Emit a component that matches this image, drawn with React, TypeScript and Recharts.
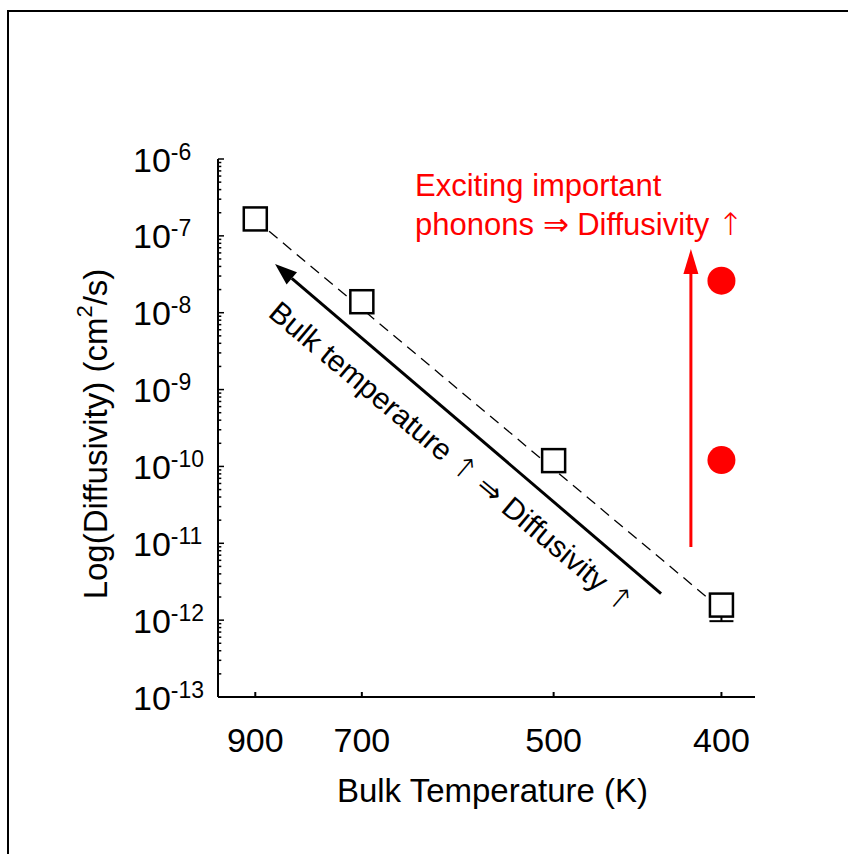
import React from "react";
import {
  ComposedChart,
  Scatter,
  XAxis,
  YAxis,
  ReferenceLine,
  ReferenceDot,
  ErrorBar,
  Label,
} from "recharts";

// bulk diffusivity vs temperature (x axis is 1000/T)
const temperatures = [900, 700, 500, 400];
const bulkDiffusivity = [1.66e-7, 1.39e-8, 1.19e-10, 1.57e-12];
const bulkError = [0, 0, 0, 0.6e-12];

// phonon-excited runs at 400 K
const phononTemps = [400, 400];
const phononDiffusivity = [2.61e-8, 1.21e-10];

// Arrhenius fit (dashed)
const fitTemps = [900, 400];
const fitDiffusivity = [1.62e-7, 1.38e-12];

const decadeExponents = [-13, -12, -11, -10, -9, -8, -7, -6];
const minorMultiples = [1, 2, 3, 4, 5, 6, 7, 8, 9];

const FONT = '"Liberation Sans", Arial, Helvetica, sans-serif';
const ARROW_FONT = '"DejaVu Sans", sans-serif';
const RED = "#ff0000";

const inv = (t: number) => 1000 / t;

const bulkData = temperatures.map((t, i) => ({
  inv: inv(t),
  d: bulkDiffusivity[i],
  err: bulkError[i],
}));
const phononData = phononTemps.map((t, i) => ({ inv: inv(t), d: phononDiffusivity[i] }));
const fitData = fitTemps.map((t, i) => ({ inv: inv(t), d: fitDiffusivity[i] }));

const yTicks: number[] = [];
decadeExponents.forEach((e, i) => {
  if (i === decadeExponents.length - 1) {
    yTicks.push(Math.pow(10, e));
    return;
  }
  minorMultiples.forEach((m) => yTicks.push(m * Math.pow(10, e)));
});

const xTicks = temperatures.map(inv);

const isDecade = (v: number) => {
  const l = Math.log10(v);
  return Math.abs(l - Math.round(l)) < 1e-6;
};

const XTick = (props: any) => {
  const { x, y, payload } = props;
  const t = Math.round(1000 / payload.value);
  return (
    <g>
      <line x1={x} y1={y} x2={x} y2={y - 5} stroke="#000" strokeWidth={2} />
      <text x={x} y={y + 55} textAnchor="middle" fontSize={34} fontFamily={FONT} fill="#000">
        {t}
      </text>
    </g>
  );
};

const YTick = (props: any) => {
  const { x, y, payload } = props;
  const major = isDecade(payload.value);
  const exp = Math.round(Math.log10(payload.value));
  return (
    <g>
      <line x1={x} y1={y} x2={x + (major ? 6 : 3.3)} y2={y} stroke="#000" strokeWidth={1.5} />
      {major && (
        <text x={x - 85} y={y + 12.5} fontSize={34} fontFamily={FONT} fill="#000">
          10
          <tspan dy={-12} fontSize={23}>
            {`-${-exp}`}
          </tspan>
        </text>
      )}
    </g>
  );
};

const Square = (props: any) => {
  const { cx, cy } = props;
  const s = 23;
  return (
    <rect x={cx - s / 2} y={cy - s / 2} width={s} height={s} fill="#fff" stroke="#000" strokeWidth={2.5} />
  );
};

const Dot = (props: any) => {
  const { cx, cy } = props;
  return <circle cx={cx} cy={cy} r={14} fill={RED} />;
};

const arrowShape = (color: string, len: number, half: number) => (props: any) => {
  const { x1, y1, x2, y2 } = props;
  const a = Math.atan2(y2 - y1, x2 - x1);
  const bx = x2 - len * Math.cos(a);
  const by = y2 - len * Math.sin(a);
  const px = -Math.sin(a) * half;
  const py = Math.cos(a) * half;
  return (
    <g>
      <line x1={x1} y1={y1} x2={bx} y2={by} stroke={color} strokeWidth={3} />
      <polygon points={`${x2},${y2} ${bx + px},${by + py} ${bx - px},${by - py}`} fill={color} />
    </g>
  );
};

const Up = () => (
  <tspan fontFamily={ARROW_FONT} fontWeight={300}>
    {"\u2191"}
  </tspan>
);

export default function App() {
  return (
    <div
      style={{
        position: "absolute",
        left: 0,
        top: 0,
        width: 848,
        height: 854,
        overflow: "hidden",
        background: "#fff",
      }}
    >
      <div
        style={{
          position: "absolute",
          left: 7,
          top: 10,
          width: 900,
          height: 900,
          borderTop: "2px solid #000",
          borderLeft: "2px solid #000",
        }}
      />
      <div style={{ position: "absolute", left: 0, top: 0 }}>
        <ComposedChart width={848} height={854} margin={{ top: 159, right: 93, bottom: 0, left: 0 }}>
          <XAxis
            xAxisId="b"
            type="number"
            dataKey="inv"
            domain={[1.0, 2.6]}
            ticks={xTicks}
            interval={0}
            allowDataOverflow
            tick={<XTick />}
            tickLine={false}
            tickSize={0}
            tickMargin={0}
            height={157}
            axisLine={{ stroke: "#000", strokeWidth: 2 }}
          >
            <Label
              content={(p: any) => {
                const vb = p.viewBox;
                return (
                  <text
                    x={vb.x + vb.width / 2 + 6}
                    y={vb.y + 105}
                    textAnchor="middle"
                    fontSize={33}
                    fontFamily={FONT}
                    fill="#000"
                  >
                    Bulk Temperature (K)
                  </text>
                );
              }}
            />
          </XAxis>
          <XAxis
            xAxisId="t"
            orientation="top"
            type="number"
            domain={[1.0, 2.6]}
            height={0}
            tick={false}
            tickLine={false}
            axisLine={{ stroke: "#000", strokeWidth: 2 }}
          />
          <YAxis
            yAxisId="l"
            type="number"
            scale="log"
            dataKey="d"
            domain={[1e-13, 1e-6]}
            ticks={yTicks}
            interval={0}
            allowDataOverflow
            tick={<YTick />}
            tickLine={false}
            tickSize={0}
            tickMargin={0}
            width={218}
            axisLine={{ stroke: "#000", strokeWidth: 2 }}
          >
            <Label
              content={(p: any) => {
                const vb = p.viewBox;
                const cx = 95;
                const cy = vb.y + 275;
                return (
                  <text
                    x={cx}
                    y={cy}
                    transform={`rotate(-90 ${cx} ${cy})`}
                    textAnchor="middle"
                    dominantBaseline="central"
                    fontSize={33}
                    fontFamily={FONT}
                    fill="#000"
                  >
                    Log(Diffusivity) (cm
                    <tspan dy={-11} fontSize={22}>
                      2
                    </tspan>
                    <tspan dy={11}>/s)</tspan>
                  </text>
                );
              }}
            />
          </YAxis>
          <YAxis
            yAxisId="r"
            orientation="right"
            type="number"
            scale="log"
            domain={[1e-13, 1e-6]}
            allowDataOverflow
            width={0}
            tick={false}
            tickLine={false}
            axisLine={{ stroke: "#000", strokeWidth: 2 }}
          />

          <Scatter
            xAxisId="b"
            yAxisId="l"
            data={fitData}
            dataKey="d"
            line={{ stroke: "#000", strokeWidth: 1.3, strokeDasharray: "11 7" }}
            lineType="joint"
            shape={() => <g />}
            isAnimationActive={false}
          />

          <ReferenceLine
            xAxisId="b"
            yAxisId="l"
            segment={[
              { x: 2.32, y: 2.22e-12 },
              { x: 1.17, y: 4.3e-8 },
            ]}
            shape={arrowShape("#000", 22, 8)}
          />
          <ReferenceLine
            xAxisId="b"
            yAxisId="l"
            segment={[
              { x: 2.409, y: 8.95e-12 },
              { x: 2.409, y: 6.75e-8 },
            ]}
            shape={arrowShape(RED, 25, 7.5)}
          />

          <Scatter
            xAxisId="b"
            yAxisId="l"
            data={bulkData}
            dataKey="d"
            shape={<Square />}
            isAnimationActive={false}
          >
            <ErrorBar dataKey="err" direction="y" width={12} stroke="#000" strokeWidth={2} />
          </Scatter>
          <Scatter
            xAxisId="b"
            yAxisId="l"
            data={phononData}
            dataKey="d"
            shape={<Dot />}
            isAnimationActive={false}
          />

          <ReferenceDot
            xAxisId="b"
            yAxisId="l"
            x={1.587}
            y={3.3e-7}
            r={0}
            shape={(p: any) => (
              <text x={p.cx} y={p.cy} fontSize={31} fontFamily={FONT} fill={RED}>
                <tspan x={p.cx}>Exciting important</tspan>
                <tspan x={p.cx} dy={39}>
                  {"phonons \u21D2 Diffusivity "}
                </tspan>
                <Up />
              </text>
            )}
          />
          <ReferenceDot
            xAxisId="b"
            yAxisId="l"
            x={1.697}
            y={1.33e-10}
            r={0}
            shape={(p: any) => (
              <text
                x={p.cx}
                y={p.cy}
                transform={`rotate(40 ${p.cx} ${p.cy})`}
                textAnchor="middle"
                dominantBaseline="central"
                fontSize={30}
                fontFamily={FONT}
                fill="#000"
              >
                {"Bulk temperature "}
                <Up />
                {" \u21D2 Diffusivity "}
                <Up />
              </text>
            )}
          />
        </ComposedChart>
      </div>
    </div>
  );
}
